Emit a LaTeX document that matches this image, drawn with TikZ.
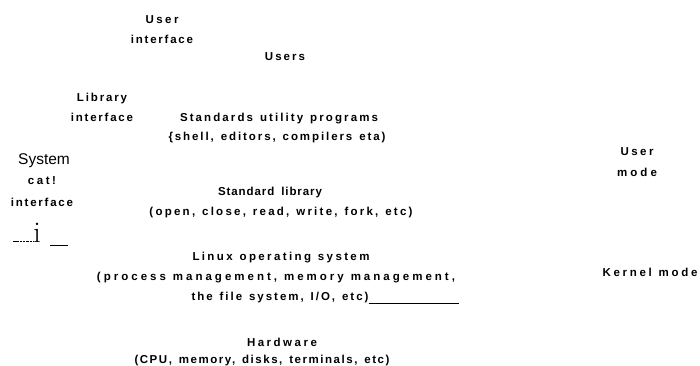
\documentclass[tikz,border=0pt]{standalone}
\usepackage{fontspec}
\setmainfont{Liberation Sans}
\newfontfamily\lbl{Liberation Sans}
\newfontfamily\lblten[LetterSpace=10]{Liberation Sans}
\newlength\fwa \newlength\fwb
\newcommand\labfont{\lbl\bfseries\fontsize{11.5}{13}\selectfont}
\newcommand\fitto[2]{%
  \spaceskip=0.6em\relax
  \settowidth\fwa{\lbl\bfseries #2}%
  \settowidth\fwb{\lblten\bfseries #2}%
  \pgfmathsetmacro\fls{round(100*(#1-\fwa)/(\fwb-\fwa))/10}%
  {\addfontfeature{LetterSpace=\fls}#2}}
\begin{document}
\begin{tikzpicture}[x=1pt,y=-1pt,
  lab/.style={inner sep=0pt,font=\labfont,align=center},
  reg/.style={inner sep=0pt,font=\fontsize{15.5}{17}\selectfont}]
\useasboundingbox (0,0) rectangle (700,366);
\node[lab] (ui1) at (162,20) {\fitto{33}{User}};
\node[lab] (ui2) at (162,39) {\fitto{62}{interface}};
\node[lab] (users) at (285,57) {\fitto{40}{Users}};
\node[lab] (li1) at (102,99) {\fitto{50}{Library}};
\node[lab] (li2) at (102,117) {\fitto{62}{interface}};
\node[lab] (sup1) at (279,119) {\fitto{198}{Standards utility programs}};
\node[lab] (sup2) at (277,138) {\fitto{217}{\{shell, editors, compilers eta)}};
\node[reg] (sys) at (44,161) {System};
\node[lab] (cat) at (42,181) {\fitto{28}{cat!}};
\node[lab] (si) at (42,202) {\fitto{62}{interface}};
\node[inner sep=0pt,font=\fontspec{Latin Modern Roman}\fontsize{30}{32}\selectfont,anchor=base] (ich) at (37,242) {i};
\coordinate (d1) at (13,241);
\coordinate (d2) at (33,241);
\coordinate (s1) at (50,245);
\coordinate (s2) at (68,245);
\draw[dash pattern=on 2.5pt off 0.8pt,line width=0.9pt] (d1) -- (d2);
\draw[line width=0.9pt] (s1) -- (s2);
\node[lab] (sl1) at (270,193) {\fitto{104}{Standard library}};
\node[lab] (sl2) at (281,213) {\fitto{263}{(open, close, read, write, fork, etc)}};
\node[lab] (lx1) at (281,258) {\fitto{177}{Linux operating system}};
\node[lab] (lx2) at (276,278) {\fitto{358}{(process management, memory management,}};
\node[lab] (lx3) at (280,298) {\fitto{177}{the file system, I/O, etc)}};
\coordinate (ul) at (459,303);
\draw[line width=1pt] (lx3.east |- ul) -- (ul);
\node[lab] (hw1) at (282,342) {\fitto{70}{Hardware}};
\node[lab] (hw2) at (262,361) {\fitto{255}{(CPU, memory, disks, terminals, etc)}};
\node[lab] (um1) at (637,152) {\fitto{33}{User}};
\node[lab] (um2) at (637,172) {\fitto{40}{mode}};
\node[lab] (km) at (650,272) {\fitto{95}{Kernel mode}};
\end{tikzpicture}
\end{document}
